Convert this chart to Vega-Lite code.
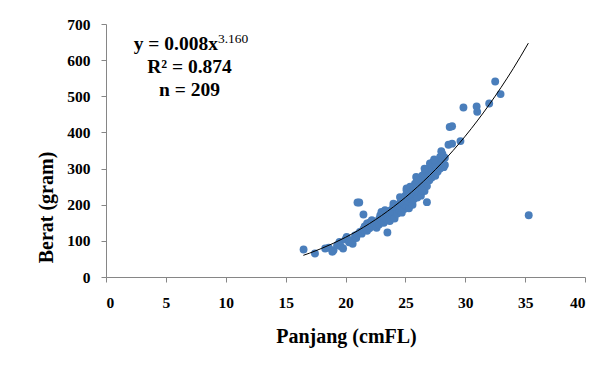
{
  "$schema": "https://vega.github.io/schema/vega-lite/v6.json",
  "width": 479,
  "height": 253,
  "autosize": {"type": "none"},
  "padding": {"left": 106, "top": 24, "right": 15, "bottom": 88},
  "background": "white",
  "config": {
    "view": {"stroke": null},
    "font": "Liberation Serif",
    "axis": {
      "grid": false,
      "domainColor": "#868686",
      "tickColor": "#868686",
      "tickSize": 5,
      "labelOverlap": false,
      "labelFont": "Liberation Serif",
      "labelFontWeight": "bold",
      "labelFontSize": 15.5,
      "labelColor": "#000000",
      "titleFont": "Liberation Serif",
      "titleFontWeight": "bold",
      "titleFontSize": 20,
      "titleColor": "#000000"
    }
  },
  "datasets": {
    "points": [
      {"panjang": 16.5, "berat": 76}, {"panjang": 17.45, "berat": 65}, {"panjang": 18.3, "berat": 79}, {"panjang": 18.6, "berat": 81},
      {"panjang": 18.9, "berat": 70}, {"panjang": 19.0, "berat": 74}, {"panjang": 19.3, "berat": 88}, {"panjang": 19.5, "berat": 97},
      {"panjang": 19.6, "berat": 85}, {"panjang": 19.8, "berat": 79}, {"panjang": 20.0, "berat": 104}, {"panjang": 20.1, "berat": 111},
      {"panjang": 20.3, "berat": 96}, {"panjang": 20.5, "berat": 102}, {"panjang": 20.6, "berat": 92}, {"panjang": 20.8, "berat": 115},
      {"panjang": 20.9, "berat": 108}, {"panjang": 21.0, "berat": 206}, {"panjang": 21.15, "berat": 206}, {"panjang": 21.0, "berat": 118},
      {"panjang": 21.2, "berat": 125}, {"panjang": 21.35, "berat": 120}, {"panjang": 21.5, "berat": 173}, {"panjang": 21.5, "berat": 132},
      {"panjang": 21.6, "berat": 140}, {"panjang": 21.8, "berat": 148}, {"panjang": 21.8, "berat": 128}, {"panjang": 22.0, "berat": 135},
      {"panjang": 22.0, "berat": 150}, {"panjang": 22.2, "berat": 157}, {"panjang": 22.3, "berat": 140}, {"panjang": 22.4, "berat": 146},
      {"panjang": 22.6, "berat": 152}, {"panjang": 22.6, "berat": 136}, {"panjang": 22.8, "berat": 160}, {"panjang": 22.8, "berat": 145},
      {"panjang": 23.0, "berat": 180}, {"panjang": 23.0, "berat": 158}, {"panjang": 23.1, "berat": 166}, {"panjang": 23.2, "berat": 150},
      {"panjang": 23.3, "berat": 172}, {"panjang": 23.4, "berat": 160}, {"panjang": 23.5, "berat": 123}, {"panjang": 23.6, "berat": 166},
      {"panjang": 23.6, "berat": 178}, {"panjang": 23.7, "berat": 155}, {"panjang": 23.8, "berat": 185}, {"panjang": 23.9, "berat": 170},
      {"panjang": 24.0, "berat": 203}, {"panjang": 24.0, "berat": 180}, {"panjang": 24.1, "berat": 162}, {"panjang": 24.2, "berat": 192},
      {"panjang": 24.3, "berat": 189}, {"panjang": 24.3, "berat": 175}, {"panjang": 24.4, "berat": 200}, {"panjang": 24.5, "berat": 184},
      {"panjang": 24.55, "berat": 221}, {"panjang": 24.6, "berat": 195}, {"panjang": 24.7, "berat": 178}, {"panjang": 24.8, "berat": 203},
      {"panjang": 24.8, "berat": 212}, {"panjang": 24.9, "berat": 188}, {"panjang": 25.0, "berat": 225}, {"panjang": 25.0, "berat": 198},
      {"panjang": 25.1, "berat": 245}, {"panjang": 25.1, "berat": 240}, {"panjang": 25.2, "berat": 210}, {"panjang": 25.2, "berat": 232},
      {"panjang": 25.3, "berat": 190}, {"panjang": 25.4, "berat": 218}, {"panjang": 25.4, "berat": 250}, {"panjang": 25.5, "berat": 205},
      {"panjang": 25.5, "berat": 236}, {"panjang": 25.6, "berat": 226}, {"panjang": 25.6, "berat": 200}, {"panjang": 25.7, "berat": 244},
      {"panjang": 25.7, "berat": 215}, {"panjang": 25.8, "berat": 258}, {"panjang": 25.8, "berat": 230}, {"panjang": 25.9, "berat": 277},
      {"panjang": 25.9, "berat": 240}, {"panjang": 26.0, "berat": 220}, {"panjang": 26.0, "berat": 262}, {"panjang": 26.1, "berat": 250},
      {"panjang": 26.1, "berat": 233}, {"panjang": 26.2, "berat": 258}, {"panjang": 26.2, "berat": 270}, {"panjang": 26.3, "berat": 245},
      {"panjang": 26.3, "berat": 225}, {"panjang": 26.4, "berat": 280}, {"panjang": 26.4, "berat": 262}, {"panjang": 26.5, "berat": 249},
      {"panjang": 26.5, "berat": 272}, {"panjang": 26.6, "berat": 286}, {"panjang": 26.6, "berat": 238}, {"panjang": 26.7, "berat": 265},
      {"panjang": 26.7, "berat": 295}, {"panjang": 26.8, "berat": 207}, {"panjang": 26.8, "berat": 252}, {"panjang": 26.9, "berat": 278},
      {"panjang": 26.9, "berat": 300}, {"panjang": 27.0, "berat": 268}, {"panjang": 27.05, "berat": 314}, {"panjang": 27.1, "berat": 285},
      {"panjang": 27.2, "berat": 300}, {"panjang": 27.2, "berat": 275}, {"panjang": 27.3, "berat": 295}, {"panjang": 27.3, "berat": 318},
      {"panjang": 27.4, "berat": 288}, {"panjang": 27.5, "berat": 308}, {"panjang": 27.5, "berat": 280}, {"panjang": 27.6, "berat": 304},
      {"panjang": 27.7, "berat": 320}, {"panjang": 27.7, "berat": 292}, {"panjang": 27.8, "berat": 312}, {"panjang": 27.9, "berat": 332},
      {"panjang": 27.9, "berat": 300}, {"panjang": 28.0, "berat": 348}, {"panjang": 28.0, "berat": 318}, {"panjang": 28.1, "berat": 325},
      {"panjang": 28.2, "berat": 304}, {"panjang": 28.3, "berat": 330}, {"panjang": 28.6, "berat": 366}, {"panjang": 28.9, "berat": 369},
      {"panjang": 28.7, "berat": 415}, {"panjang": 28.9, "berat": 417}, {"panjang": 29.6, "berat": 376}, {"panjang": 29.85, "berat": 469},
      {"panjang": 30.95, "berat": 472}, {"panjang": 31.0, "berat": 457}, {"panjang": 32.0, "berat": 480}, {"panjang": 32.5, "berat": 541},
      {"panjang": 32.95, "berat": 506}, {"panjang": 35.3, "berat": 171},
      {"panjang": 24.0, "berat": 195}, {"panjang": 24.6, "berat": 208}, {"panjang": 25.3, "berat": 228}, {"panjang": 25.9, "berat": 255},
      {"panjang": 26.4, "berat": 240}, {"panjang": 27.0, "berat": 290}, {"panjang": 27.6, "berat": 290}, {"panjang": 28.1, "berat": 340},
      {"panjang": 28.3, "berat": 310}, {"panjang": 23.3, "berat": 185}, {"panjang": 22.9, "berat": 170}, {"panjang": 26.0, "berat": 268},
      {"panjang": 26.6, "berat": 300}, {"panjang": 27.4, "berat": 325}
    ],
    "curve": [
      {"panjang": 16.48, "berat": 60}, {"panjang": 17, "berat": 66}, {"panjang": 18, "berat": 79}, {"panjang": 19, "berat": 93.5},
      {"panjang": 20, "berat": 109.7}, {"panjang": 21, "berat": 127.7}, {"panjang": 22, "berat": 147.8}, {"panjang": 23, "berat": 169.8},
      {"panjang": 24, "berat": 194}, {"panjang": 25, "berat": 220.3}, {"panjang": 26, "berat": 249.1}, {"panjang": 27, "berat": 280.3},
      {"panjang": 28, "berat": 314.1}, {"panjang": 29, "berat": 350.5}, {"panjang": 30, "berat": 389.7}, {"panjang": 31, "berat": 431.8},
      {"panjang": 32, "berat": 476.8}, {"panjang": 33, "berat": 525}, {"panjang": 34, "berat": 576.3}, {"panjang": 35.27, "berat": 647}
    ]
  },
  "layer": [
    {
      "data": {"name": "points"},
      "mark": {"type": "circle", "size": 62, "color": "#4A7EBB", "opacity": 1},
      "encoding": {
        "x": {
          "field": "panjang", "type": "quantitative",
          "scale": {"domain": [0, 40], "nice": false, "zero": true},
          "axis": {"values": [0, 5, 10, 15, 20, 25, 30, 35, 40], "tickCount": 16, "labelPadding": 13, "title": "Panjang (cmFL)", "titleBaseline": "alphabetic", "titleY": 65, "titleX": 240}
        },
        "y": {
          "field": "berat", "type": "quantitative",
          "scale": {"domain": [0, 700], "nice": false},
          "axis": {"values": [0, 100, 200, 300, 400, 500, 600, 700], "tickCount": 14, "labelPadding": 11, "title": "Berat (gram)", "titleBaseline": "alphabetic", "titleX": -54, "titleY": 183, "titleAngle": -90}
        }
      }
    },
    {
      "data": {"name": "curve"},
      "mark": {"type": "line", "color": "#000000", "strokeWidth": 1, "interpolate": "monotone"},
      "encoding": {
        "x": {"field": "panjang", "type": "quantitative"},
        "y": {"field": "berat", "type": "quantitative"}
      }
    },
    {
      "data": {"values": [{}]},
      "mark": {"type": "text", "text": "y = 0.008x", "align": "right", "baseline": "alphabetic", "font": "Liberation Serif", "fontWeight": "bold", "fontSize": 19.5, "color": "#000000"},
      "encoding": {"x": {"datum": 9.35, "type": "quantitative"}, "y": {"datum": 628, "type": "quantitative"}}
    },
    {
      "data": {"values": [{}]},
      "mark": {"type": "text", "text": "3.160", "align": "left", "baseline": "alphabetic", "font": "Liberation Serif", "fontWeight": "normal", "fontSize": 13.5, "color": "#000000"},
      "encoding": {"x": {"datum": 9.35, "type": "quantitative"}, "y": {"datum": 647, "type": "quantitative"}}
    },
    {
      "data": {"values": [{}]},
      "mark": {"type": "text", "text": "R² = 0.874", "align": "center", "baseline": "alphabetic", "font": "Liberation Serif", "fontWeight": "bold", "fontSize": 19.5, "color": "#000000"},
      "encoding": {"x": {"datum": 6.97, "type": "quantitative"}, "y": {"datum": 565, "type": "quantitative"}}
    },
    {
      "data": {"values": [{}]},
      "mark": {"type": "text", "text": "n = 209", "align": "center", "baseline": "alphabetic", "font": "Liberation Serif", "fontWeight": "bold", "fontSize": 19.5, "color": "#000000"},
      "encoding": {"x": {"datum": 6.97, "type": "quantitative"}, "y": {"datum": 502, "type": "quantitative"}}
    }
  ]
}
